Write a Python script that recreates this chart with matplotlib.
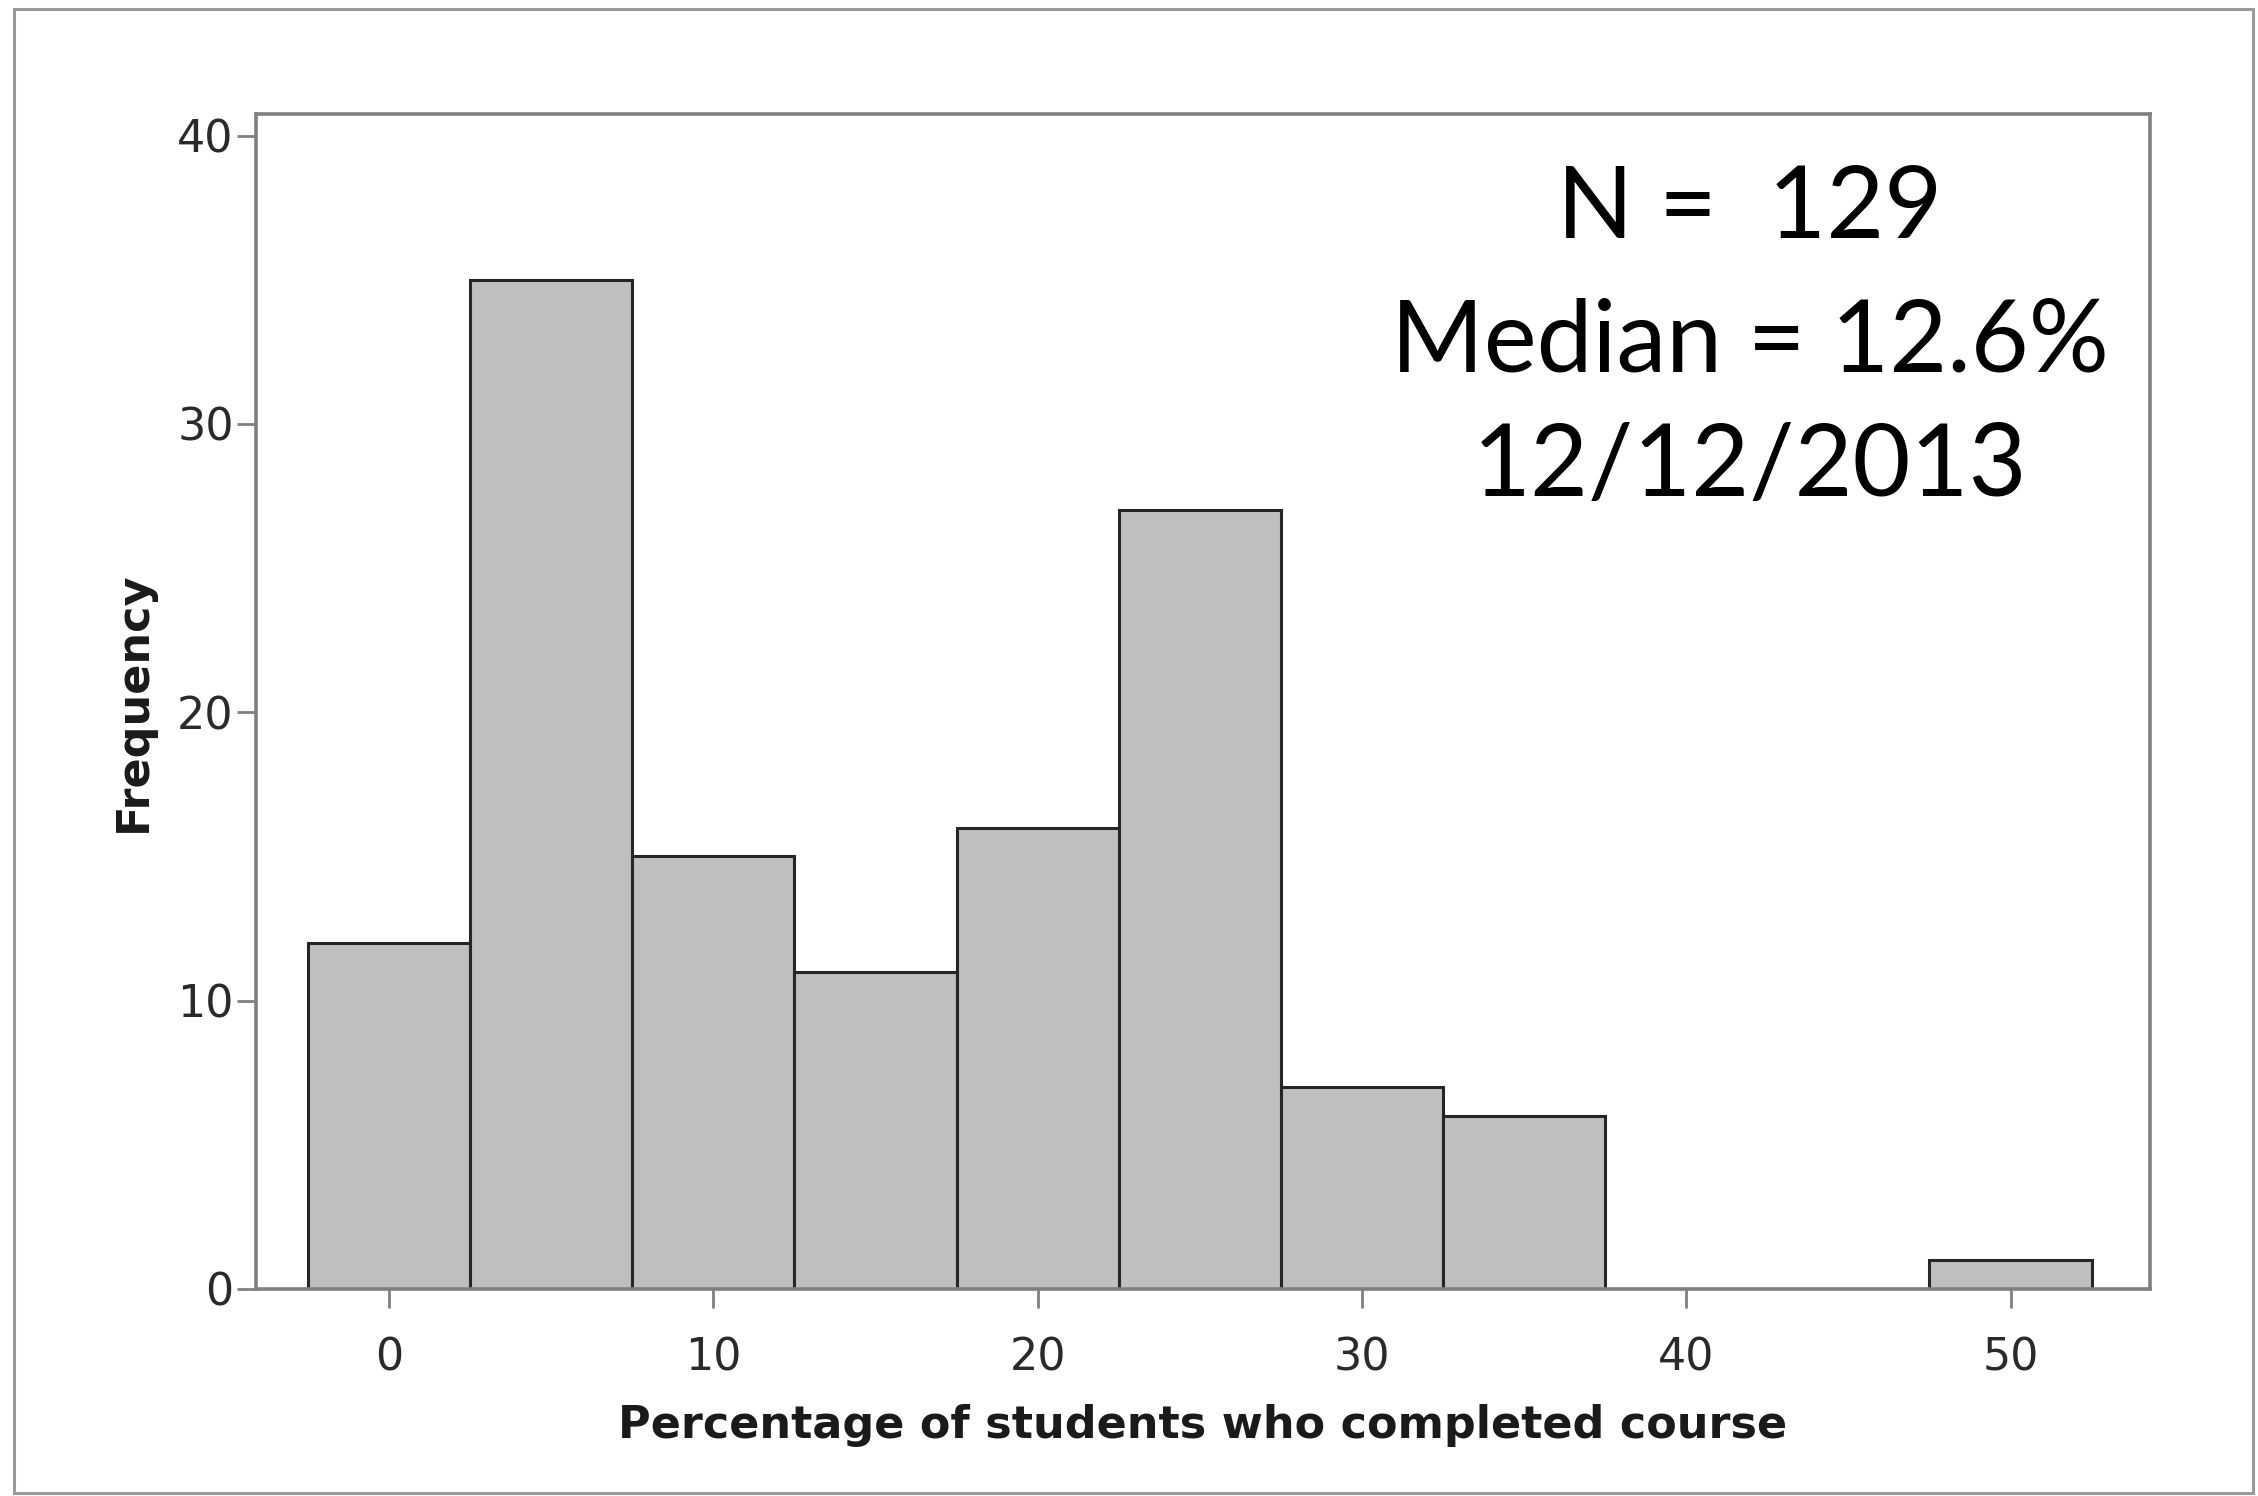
import matplotlib
matplotlib.use("Agg")
import matplotlib.pyplot as plt
from matplotlib.patches import Rectangle

# Data
bin_edges = [-2.5, 2.5, 7.5, 12.5, 17.5, 22.5, 27.5, 32.5, 37.5, 42.5, 47.5, 52.5]
counts = [12, 35, 15, 11, 16, 27, 7, 6, 0, 0, 1]
x_ticks = [0, 10, 20, 30, 40, 50]
y_ticks = [0, 10, 20, 30, 40]
annotation_lines = ["N =  129", "Median = 12.6%", "12/12/2013"]
x_label = "Percentage of students who completed course"
y_label = "Frequency"

W, H = 2258, 1496
dpi = 100
fig = plt.figure(figsize=(W / dpi, H / dpi), dpi=dpi)
fig.patch.set_facecolor("white")

# outer frame
fig.patches.append(Rectangle((14 / W, 3 / H), (2253 - 14) / W, (1487 - 3) / H,
                             transform=fig.transFigure, fill=False,
                             edgecolor="#9a9a9a", linewidth=2.2))

ax = fig.add_axes([256 / W, 1 - 1289 / H, (2150 - 256) / W, (1289 - 114) / H])
widths = [bin_edges[i + 1] - bin_edges[i] for i in range(len(counts))]
ax.bar(bin_edges[:-1], counts, width=widths, align="edge",
       color="#bfbfbf", edgecolor="#262626", linewidth=2.2, zorder=2)

ax.set_xlim(-4.1, 54.3)
ax.set_ylim(0, 40.75)
ax.set_xticks(x_ticks)
ax.set_yticks(y_ticks)
for s in ax.spines.values():
    s.set_color("#808080")
    s.set_linewidth(2.6)
ax.tick_params(axis="both", direction="out", length=14, width=2.0, color="#808080",
               labelsize=32, labelcolor="#2a2a2a")
ax.tick_params(axis="x", pad=20)
ax.tick_params(axis="y", pad=2)

ax.set_xlabel(x_label, fontsize=32, fontweight="bold", color="#1a1a1a", labelpad=18)
ax.set_ylabel(y_label, fontsize=32, fontweight="bold", color="#1a1a1a", labelpad=16)

ys = [209, 343, 468]
for line, y in zip(annotation_lines, ys):
    fig.text(1750 / W, 1 - y / H, line, ha="center", va="center",
             fontsize=72, family=["Lato", "DejaVu Sans"], color="black")

fig.savefig("out.png", dpi=dpi)
